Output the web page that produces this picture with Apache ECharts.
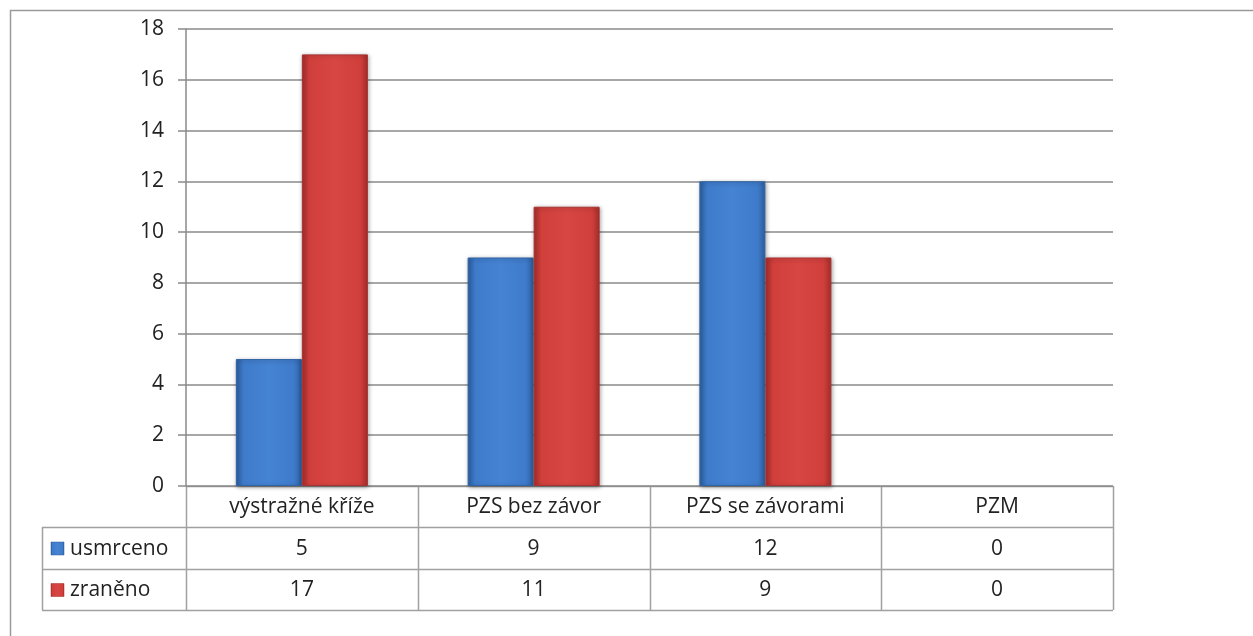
<!DOCTYPE html>
<html>
<head>
<meta charset="utf-8">
<script src="https://cdn.jsdelivr.net/npm/echarts@6/dist/echarts.min.js"></script>
<style>
html,body{margin:0;padding:0;background:#fff;}
#c{width:1253px;height:636px;}
</style>
</head>
<body>
<div id="c"></div>
<script>
var categories = ['výstražné kříže', 'PZS bez závor', 'PZS se závorami', 'PZM'];
var seriesNames = ['usmrceno', 'zraněno'];
var usmrceno = [5, 9, 12, 0];
var zraneno = [17, 11, 9, 0];
var yTicks = [0, 2, 4, 6, 8, 10, 12, 14, 16, 18];

var W = 1253, H = 636;
var G = {left: 186, right: 1113, top: 29, bottom: 486};
var rowH = [41, 42, 41];
var legendLeft = 42;
var FONT = '"Open Sans", Lato, sans-serif';
var FS = 21;
var lineC = '#a0a0a0';

function barGrad(c1, c2, c3) {
  return new echarts.graphic.LinearGradient(0, 0, 1, 0, [
    {offset: 0, color: c3},
    {offset: 0.12, color: c1},
    {offset: 0.5, color: c2},
    {offset: 0.88, color: c1},
    {offset: 1, color: c3}
  ]);
}
var blueFill = barGrad('#3f7bcb', '#4583d3', '#2c5f9f');
var redFill = barGrad('#d13f3c', '#d84643', '#a52d2b');

var chart = echarts.init(document.getElementById('c'), null, {renderer: 'canvas'});

var graphics = [];
graphics.push({type: 'polyline', shape: {points: [[10.5, H], [10.5, 10.5], [W, 10.5]]}, style: {stroke: '#9a9a9a', lineWidth: 1.5, fill: null}});

var catW = (G.right - G.left) / categories.length;
var y0 = G.bottom, y1 = y0 + rowH[0], y2 = y1 + rowH[1], y3 = y2 + rowH[2];
graphics.push({type: 'line', shape: {x1: G.left, y1: y0 + 0.5, x2: G.right, y2: y0 + 0.5}, style: {stroke: lineC, lineWidth: 1.5}});
[y1, y2, y3].forEach(function (yy) {
  graphics.push({type: 'line', shape: {x1: legendLeft, y1: yy + 0.5, x2: G.right, y2: yy + 0.5}, style: {stroke: lineC, lineWidth: 1.5}});
});
graphics.push({type: 'line', shape: {x1: legendLeft + 0.5, y1: y1, x2: legendLeft + 0.5, y2: y3}, style: {stroke: lineC, lineWidth: 1.5}});
for (var i = 0; i <= categories.length; i++) {
  var xx = Math.round(G.left + i * catW) + 0.5;
  graphics.push({type: 'line', shape: {x1: xx, y1: y0, x2: xx, y2: y3}, style: {stroke: lineC, lineWidth: 1.5}});
}
var rows = [usmrceno, zraneno];
var rowTops = [y1, y2];
categories.forEach(function (c, i) {
  var cx = G.left + (i + 0.5) * catW;
  graphics.push({type: 'text', x: cx, y: (y0 + y1) / 2 + 1, style: {text: c, fill: '#222', font: FS + 'px ' + FONT, textAlign: 'center', textVerticalAlign: 'middle'}});
  rows.forEach(function (r, k) {
    graphics.push({type: 'text', x: cx, y: rowTops[k] + rowH[k + 1] / 2 + 1, style: {text: String(r[i]), fill: '#222', font: FS + 'px ' + FONT, textAlign: 'center', textVerticalAlign: 'middle'}});
  });
});
var keyFills = [blueFill, redFill];
var keyBorders = ['#2c5f9f', '#a52d2b'];
seriesNames.forEach(function (n, k) {
  var cy = rowTops[k] + rowH[k + 1] / 2 + 1;
  graphics.push({type: 'rect', shape: {x: 51, y: cy - 7, width: 13, height: 13}, style: {fill: keyFills[k], stroke: keyBorders[k], lineWidth: 0.5}});
  graphics.push({type: 'text', x: 70, y: cy, style: {text: n, fill: '#222', font: FS + 'px ' + FONT, textAlign: 'left', textVerticalAlign: 'middle'}});
});

function toItems(arr) {
  return arr.map(function (v) {
    return v === 0 ? {value: v, itemStyle: {borderWidth: 0, shadowBlur: 0, shadowOffsetX: 0, shadowOffsetY: 0, opacity: 0}} : v;
  });
}

var option = {
  animation: false,
  backgroundColor: '#fff',
  grid: {left: G.left, right: W - G.right, top: G.top, bottom: H - G.bottom, containLabel: false},
  xAxis: {
    type: 'category',
    data: categories,
    axisLine: {show: false},
    axisTick: {show: false},
    axisLabel: {show: false}
  },
  yAxis: {
    type: 'value',
    min: yTicks[0],
    max: yTicks[yTicks.length - 1],
    interval: yTicks[1] - yTicks[0],
    axisLine: {show: true, lineStyle: {color: '#8a8a8a', width: 1.5}},
    axisTick: {show: true, inside: false, length: 8, lineStyle: {color: '#8a8a8a', width: 1.5}},
    axisLabel: {color: '#222', fontSize: FS, fontFamily: FONT, margin: 22},
    splitLine: {show: true, lineStyle: {color: '#8a8a8a', width: 1.5}}
  },
  series: [
    {name: seriesNames[0], type: 'bar', data: toItems(usmrceno), barWidth: 66, barGap: '0%',
      itemStyle: {color: blueFill, borderColor: '#2f64a6', borderWidth: 1, shadowColor: 'rgba(0,0,0,0.35)', shadowBlur: 4, shadowOffsetX: 1, shadowOffsetY: 1}},
    {name: seriesNames[1], type: 'bar', data: toItems(zraneno), barWidth: 66, barGap: '0%',
      itemStyle: {color: redFill, borderColor: '#a83230', borderWidth: 1, shadowColor: 'rgba(0,0,0,0.35)', shadowBlur: 4, shadowOffsetX: 1, shadowOffsetY: 1}}
  ],
  graphic: graphics
};
chart.setOption(option);
</script>
</body>
</html>
